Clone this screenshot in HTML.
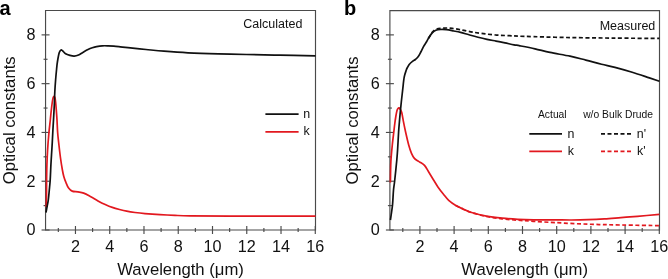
<!DOCTYPE html>
<html><head><meta charset="utf-8"><style>
html,body{margin:0;padding:0;background:#fff;}
body{width:668px;height:279px;overflow:hidden;}
svg{display:block;font-family:"Liberation Sans",sans-serif;will-change:transform;}
.tk{font-size:16.2px;fill:#111;}
.al{font-size:16.7px;fill:#111;}
.pl{font-size:20px;font-weight:bold;fill:#000;}
.an{font-size:12.5px;fill:#111;}
.lg{font-size:12.4px;fill:#111;}
.lh{font-size:10.3px;fill:#111;}
</style></head><body>
<svg width="668" height="279" viewBox="0 0 668 279">
<path d="M45.55,10.5 H315.5 V230.0 H45.55 Z" fill="none" stroke="#4a4a4a" stroke-width="1.15"/>
<path d="M41.55,230.00 H49.55" stroke="#4a4a4a" stroke-width="1.15"/>
<path d="M43.55,205.61 H47.55" stroke="#4a4a4a" stroke-width="1.15"/>
<path d="M41.55,181.22 H49.55" stroke="#4a4a4a" stroke-width="1.15"/>
<path d="M43.55,156.83 H47.55" stroke="#4a4a4a" stroke-width="1.15"/>
<path d="M41.55,132.44 H49.55" stroke="#4a4a4a" stroke-width="1.15"/>
<path d="M43.55,108.05 H47.55" stroke="#4a4a4a" stroke-width="1.15"/>
<path d="M41.55,83.66 H49.55" stroke="#4a4a4a" stroke-width="1.15"/>
<path d="M43.55,59.27 H47.55" stroke="#4a4a4a" stroke-width="1.15"/>
<path d="M41.55,34.88 H49.55" stroke="#4a4a4a" stroke-width="1.15"/>
<path d="M58.33,228.00 V232.00" stroke="#4a4a4a" stroke-width="1.15"/>
<path d="M75.46,226.00 V234.00" stroke="#4a4a4a" stroke-width="1.15"/>
<path d="M92.59,228.00 V232.00" stroke="#4a4a4a" stroke-width="1.15"/>
<path d="M109.72,226.00 V234.00" stroke="#4a4a4a" stroke-width="1.15"/>
<path d="M126.85,228.00 V232.00" stroke="#4a4a4a" stroke-width="1.15"/>
<path d="M143.98,226.00 V234.00" stroke="#4a4a4a" stroke-width="1.15"/>
<path d="M161.11,228.00 V232.00" stroke="#4a4a4a" stroke-width="1.15"/>
<path d="M178.24,226.00 V234.00" stroke="#4a4a4a" stroke-width="1.15"/>
<path d="M195.37,228.00 V232.00" stroke="#4a4a4a" stroke-width="1.15"/>
<path d="M212.50,226.00 V234.00" stroke="#4a4a4a" stroke-width="1.15"/>
<path d="M229.63,228.00 V232.00" stroke="#4a4a4a" stroke-width="1.15"/>
<path d="M246.76,226.00 V234.00" stroke="#4a4a4a" stroke-width="1.15"/>
<path d="M263.89,228.00 V232.00" stroke="#4a4a4a" stroke-width="1.15"/>
<path d="M281.02,226.00 V234.00" stroke="#4a4a4a" stroke-width="1.15"/>
<path d="M298.15,228.00 V232.00" stroke="#4a4a4a" stroke-width="1.15"/>
<path d="M315.28,226.00 V234.00" stroke="#4a4a4a" stroke-width="1.15"/>
<path d="M389.9,10.6 H659.5 V230.0 H389.9 Z" fill="none" stroke="#4a4a4a" stroke-width="1.15"/>
<path d="M385.90,230.00 H393.90" stroke="#4a4a4a" stroke-width="1.15"/>
<path d="M387.90,205.61 H391.90" stroke="#4a4a4a" stroke-width="1.15"/>
<path d="M385.90,181.22 H393.90" stroke="#4a4a4a" stroke-width="1.15"/>
<path d="M387.90,156.83 H391.90" stroke="#4a4a4a" stroke-width="1.15"/>
<path d="M385.90,132.44 H393.90" stroke="#4a4a4a" stroke-width="1.15"/>
<path d="M387.90,108.05 H391.90" stroke="#4a4a4a" stroke-width="1.15"/>
<path d="M385.90,83.66 H393.90" stroke="#4a4a4a" stroke-width="1.15"/>
<path d="M387.90,59.27 H391.90" stroke="#4a4a4a" stroke-width="1.15"/>
<path d="M385.90,34.88 H393.90" stroke="#4a4a4a" stroke-width="1.15"/>
<path d="M402.80,228.00 V232.00" stroke="#4a4a4a" stroke-width="1.15"/>
<path d="M419.90,226.00 V234.00" stroke="#4a4a4a" stroke-width="1.15"/>
<path d="M437.00,228.00 V232.00" stroke="#4a4a4a" stroke-width="1.15"/>
<path d="M454.10,226.00 V234.00" stroke="#4a4a4a" stroke-width="1.15"/>
<path d="M471.20,228.00 V232.00" stroke="#4a4a4a" stroke-width="1.15"/>
<path d="M488.30,226.00 V234.00" stroke="#4a4a4a" stroke-width="1.15"/>
<path d="M505.40,228.00 V232.00" stroke="#4a4a4a" stroke-width="1.15"/>
<path d="M522.50,226.00 V234.00" stroke="#4a4a4a" stroke-width="1.15"/>
<path d="M539.60,228.00 V232.00" stroke="#4a4a4a" stroke-width="1.15"/>
<path d="M556.70,226.00 V234.00" stroke="#4a4a4a" stroke-width="1.15"/>
<path d="M573.80,228.00 V232.00" stroke="#4a4a4a" stroke-width="1.15"/>
<path d="M590.90,226.00 V234.00" stroke="#4a4a4a" stroke-width="1.15"/>
<path d="M608.00,228.00 V232.00" stroke="#4a4a4a" stroke-width="1.15"/>
<path d="M625.10,226.00 V234.00" stroke="#4a4a4a" stroke-width="1.15"/>
<path d="M642.20,228.00 V232.00" stroke="#4a4a4a" stroke-width="1.15"/>
<path d="M659.30,226.00 V234.00" stroke="#4a4a4a" stroke-width="1.15"/>
<text x="35.45" y="235" text-anchor="end" class="tk">0</text>
<text x="35.45" y="187" text-anchor="end" class="tk">2</text>
<text x="35.45" y="138" text-anchor="end" class="tk">4</text>
<text x="35.45" y="89" text-anchor="end" class="tk">6</text>
<text x="35.45" y="40" text-anchor="end" class="tk">8</text>
<text x="75.46" y="251.6" text-anchor="middle" class="tk">2</text>
<text x="109.72" y="251.6" text-anchor="middle" class="tk">4</text>
<text x="143.98" y="251.6" text-anchor="middle" class="tk">6</text>
<text x="178.24" y="251.6" text-anchor="middle" class="tk">8</text>
<text x="212.50" y="251.6" text-anchor="middle" class="tk">10</text>
<text x="246.76" y="251.6" text-anchor="middle" class="tk">12</text>
<text x="281.02" y="251.6" text-anchor="middle" class="tk">14</text>
<text x="315.28" y="251.6" text-anchor="middle" class="tk">16</text>
<text x="180.53" y="275.3" text-anchor="middle" class="al">Wavelength (μm)</text>
<text transform="translate(14.55,120.35) rotate(-90)" text-anchor="middle" class="al">Optical constants</text>
<text x="-0.5" y="14.6" class="pl">a</text>
<text x="379.80" y="235" text-anchor="end" class="tk">0</text>
<text x="379.80" y="187" text-anchor="end" class="tk">2</text>
<text x="379.80" y="138" text-anchor="end" class="tk">4</text>
<text x="379.80" y="89" text-anchor="end" class="tk">6</text>
<text x="379.80" y="40" text-anchor="end" class="tk">8</text>
<text x="419.90" y="251.6" text-anchor="middle" class="tk">2</text>
<text x="454.10" y="251.6" text-anchor="middle" class="tk">4</text>
<text x="488.30" y="251.6" text-anchor="middle" class="tk">6</text>
<text x="522.50" y="251.6" text-anchor="middle" class="tk">8</text>
<text x="556.70" y="251.6" text-anchor="middle" class="tk">10</text>
<text x="590.90" y="251.6" text-anchor="middle" class="tk">12</text>
<text x="625.10" y="251.6" text-anchor="middle" class="tk">14</text>
<text x="659.30" y="251.6" text-anchor="middle" class="tk">16</text>
<text x="524.70" y="275.3" text-anchor="middle" class="al">Wavelength (μm)</text>
<text transform="translate(358.30,120.40) rotate(-90)" text-anchor="middle" class="al">Optical constants</text>
<text x="344.0" y="14.6" class="pl">b</text>
<path d="M46.20,207.00 C46.25,205.00 46.43,199.50 46.50,195.00 C46.57,190.50 46.53,185.00 46.60,180.00 C46.67,175.00 46.73,170.00 46.90,165.00 C47.07,160.00 47.27,155.33 47.60,150.00 C47.93,144.67 48.45,138.00 48.90,133.00 C49.35,128.00 49.92,123.67 50.30,120.00 C50.68,116.33 50.87,114.00 51.20,111.00 C51.53,108.00 51.97,104.25 52.30,102.00 C52.63,99.75 52.92,98.43 53.20,97.50 C53.48,96.57 53.72,96.38 54.00,96.40 C54.28,96.42 54.63,96.67 54.90,97.60 C55.17,98.53 55.37,99.93 55.60,102.00 C55.83,104.07 56.07,107.00 56.30,110.00 C56.53,113.00 56.78,116.33 57.00,120.00 C57.22,123.67 57.33,128.33 57.60,132.00 C57.87,135.67 58.12,137.67 58.60,142.00 C59.08,146.33 59.87,153.33 60.50,158.00 C61.13,162.67 61.85,166.92 62.40,170.00 C62.95,173.08 63.23,174.47 63.80,176.50 C64.37,178.53 65.00,180.27 65.80,182.20 C66.60,184.13 67.53,186.62 68.60,188.10 C69.67,189.58 70.65,190.47 72.20,191.10 C73.75,191.73 75.98,191.57 77.90,191.90 C79.82,192.23 81.55,192.30 83.70,193.10 C85.85,193.90 88.42,195.40 90.80,196.70 C93.18,198.00 95.60,199.60 98.00,200.90 C100.40,202.20 102.82,203.42 105.20,204.50 C107.58,205.58 109.92,206.57 112.30,207.40 C114.68,208.23 117.10,208.87 119.50,209.50 C121.90,210.13 124.12,210.70 126.70,211.20 C129.28,211.70 131.95,212.10 135.00,212.50 C138.05,212.90 140.83,213.23 145.00,213.60 C149.17,213.97 155.00,214.40 160.00,214.70 C165.00,215.00 170.00,215.22 175.00,215.40 C180.00,215.58 180.83,215.68 190.00,215.80 C199.17,215.92 209.08,216.03 230.00,216.10 C250.92,216.17 301.25,216.18 315.50,216.20" fill="none" stroke="#e2181f" stroke-width="1.7" stroke-linejoin="round"/>
<path d="M46.00,212.50 C46.20,211.42 46.82,208.08 47.20,206.00 C47.58,203.92 47.95,202.67 48.30,200.00 C48.65,197.33 48.98,193.33 49.30,190.00 C49.62,186.67 49.93,184.17 50.20,180.00 C50.47,175.83 50.68,169.17 50.90,165.00 C51.12,160.83 51.27,158.83 51.50,155.00 C51.73,151.17 52.07,146.17 52.30,142.00 C52.53,137.83 52.70,133.67 52.90,130.00 C53.10,126.33 53.27,124.17 53.50,120.00 C53.73,115.83 54.08,109.67 54.30,105.00 C54.52,100.33 54.58,96.17 54.80,92.00 C55.02,87.83 55.30,83.83 55.60,80.00 C55.90,76.17 56.30,72.00 56.60,69.00 C56.90,66.00 56.97,64.70 57.40,62.00 C57.83,59.30 58.60,54.82 59.20,52.80 C59.80,50.78 60.40,50.20 61.00,49.90 C61.60,49.60 62.03,50.35 62.80,51.00 C63.57,51.65 64.42,53.07 65.60,53.80 C66.78,54.53 68.47,55.02 69.90,55.40 C71.33,55.78 72.77,56.17 74.20,56.10 C75.63,56.03 77.07,55.60 78.50,55.00 C79.93,54.40 81.22,53.40 82.80,52.50 C84.38,51.60 86.42,50.38 88.00,49.60 C89.58,48.82 90.87,48.30 92.30,47.80 C93.73,47.30 94.93,46.93 96.60,46.60 C98.27,46.27 100.38,45.93 102.30,45.80 C104.22,45.67 106.18,45.75 108.10,45.80 C110.02,45.85 111.77,45.93 113.80,46.10 C115.83,46.27 117.93,46.53 120.30,46.80 C122.67,47.07 123.72,47.25 128.00,47.70 C132.28,48.15 140.00,48.92 146.00,49.50 C152.00,50.08 157.00,50.65 164.00,51.20 C171.00,51.75 178.93,52.35 188.00,52.80 C197.07,53.25 208.67,53.62 218.40,53.90 C228.13,54.18 236.13,54.28 246.40,54.50 C256.67,54.72 268.48,54.98 280.00,55.20 C291.52,55.42 309.58,55.70 315.50,55.80" fill="none" stroke="#111" stroke-width="1.7" stroke-linejoin="round"/>
<path d="M455.80,205.40 C456.98,205.98 460.42,207.75 462.90,208.90 C465.38,210.05 466.78,211.03 470.70,212.30 C474.62,213.57 481.18,215.42 486.40,216.50 C491.62,217.58 496.73,218.18 502.00,218.80 C507.27,219.42 512.73,219.78 518.00,220.20 C523.27,220.62 527.43,220.90 533.60,221.30 C539.77,221.70 545.93,222.12 555.00,222.60 C564.07,223.08 577.02,223.80 588.00,224.20 C598.98,224.60 609.00,224.77 620.90,225.00 C632.80,225.23 652.98,225.50 659.40,225.60" fill="none" stroke="#e2181f" stroke-width="1.7" stroke-linejoin="round" stroke-dasharray="4 2.5"/>
<path d="M390.40,182.50 C390.42,181.42 390.45,178.75 390.50,176.00 C390.55,173.25 390.60,169.00 390.70,166.00 C390.80,163.00 390.83,161.50 391.10,158.00 C391.37,154.50 391.85,149.33 392.30,145.00 C392.75,140.67 393.38,135.58 393.80,132.00 C394.22,128.42 394.45,126.17 394.80,123.50 C395.15,120.83 395.53,118.15 395.90,116.00 C396.27,113.85 396.65,111.87 397.00,110.60 C397.35,109.33 397.65,108.85 398.00,108.40 C398.35,107.95 398.70,107.72 399.10,107.90 C399.50,108.08 399.95,108.68 400.40,109.50 C400.85,110.32 401.30,110.82 401.80,112.80 C402.30,114.78 402.77,118.20 403.40,121.40 C404.03,124.60 404.72,128.07 405.60,132.00 C406.48,135.93 407.72,141.43 408.70,145.00 C409.68,148.57 410.55,151.17 411.50,153.40 C412.45,155.63 413.40,157.18 414.40,158.40 C415.40,159.62 416.57,160.07 417.50,160.70 C418.43,161.33 418.83,161.42 420.00,162.20 C421.17,162.98 423.00,163.68 424.50,165.40 C426.00,167.12 427.52,170.12 429.00,172.50 C430.48,174.88 431.92,177.30 433.40,179.70 C434.88,182.10 436.25,184.52 437.90,186.90 C439.55,189.28 441.50,191.77 443.30,194.00 C445.10,196.23 446.62,198.40 448.70,200.30 C450.78,202.20 453.43,203.97 455.80,205.40 C458.17,206.83 460.42,207.77 462.90,208.90 C465.38,210.03 466.78,211.00 470.70,212.20 C474.62,213.40 481.15,215.10 486.40,216.10 C491.65,217.10 496.95,217.67 502.20,218.20 C507.45,218.73 512.67,219.03 517.90,219.30 C523.13,219.57 527.42,219.70 533.60,219.80 C539.78,219.90 548.68,219.87 555.00,219.90 C561.32,219.93 566.00,220.03 571.50,220.00 C577.00,219.97 582.52,219.88 588.00,219.70 C593.48,219.52 598.92,219.25 604.40,218.90 C609.88,218.55 615.40,218.03 620.90,217.60 C626.40,217.17 630.98,216.83 637.40,216.30 C643.82,215.77 655.73,214.72 659.40,214.40" fill="none" stroke="#e2181f" stroke-width="1.7" stroke-linejoin="round"/>
<path d="M428.30,38.60 C428.95,37.57 430.95,33.93 432.20,32.40 C433.45,30.87 434.25,30.08 435.80,29.40 C437.35,28.72 439.60,28.53 441.50,28.30 C443.40,28.07 445.28,27.97 447.20,28.00 C449.12,28.03 451.08,28.28 453.00,28.50 C454.92,28.72 456.87,28.98 458.70,29.30 C460.53,29.62 461.68,29.93 464.00,30.40 C466.32,30.87 469.37,31.55 472.60,32.10 C475.83,32.65 479.52,33.22 483.40,33.70 C487.28,34.18 491.57,34.67 495.90,35.00 C500.23,35.33 504.55,35.47 509.40,35.70 C514.25,35.93 515.47,36.10 525.00,36.40 C534.53,36.70 551.90,37.22 566.60,37.50 C581.30,37.78 597.73,37.95 613.20,38.10 C628.67,38.25 651.70,38.35 659.40,38.40" fill="none" stroke="#111" stroke-width="1.7" stroke-linejoin="round" stroke-dasharray="4 2.5"/>
<path d="M390.40,220.00 C390.60,218.67 391.23,214.67 391.60,212.00 C391.97,209.33 392.28,207.67 392.60,204.00 C392.92,200.33 393.17,193.75 393.50,190.00 C393.83,186.25 394.05,186.50 394.60,181.50 C395.15,176.50 396.28,165.58 396.80,160.00 C397.32,154.42 397.40,152.67 397.70,148.00 C398.00,143.33 398.32,136.33 398.60,132.00 C398.88,127.67 399.13,125.20 399.40,122.00 C399.67,118.80 399.88,116.13 400.20,112.80 C400.52,109.47 400.97,105.13 401.30,102.00 C401.63,98.87 401.95,96.22 402.20,94.00 C402.45,91.78 402.47,91.50 402.80,88.70 C403.13,85.90 403.62,80.32 404.20,77.20 C404.78,74.08 405.73,71.67 406.30,70.00 C406.87,68.33 407.08,68.17 407.60,67.20 C408.12,66.23 408.53,65.22 409.40,64.20 C410.27,63.18 411.80,61.88 412.80,61.10 C413.80,60.32 414.52,60.22 415.40,59.50 C416.28,58.78 417.20,58.05 418.10,56.80 C419.00,55.55 419.90,53.70 420.80,52.00 C421.70,50.30 422.60,48.22 423.50,46.60 C424.40,44.98 425.40,43.63 426.20,42.30 C427.00,40.97 427.30,40.17 428.30,38.60 C429.30,37.03 430.95,34.28 432.20,32.90 C433.45,31.52 434.37,30.87 435.80,30.30 C437.23,29.73 439.02,29.60 440.80,29.50 C442.58,29.40 444.35,29.45 446.50,29.70 C448.65,29.95 451.37,30.55 453.70,31.00 C456.03,31.45 457.95,31.77 460.50,32.40 C463.05,33.03 466.08,34.00 469.00,34.80 C471.92,35.60 475.00,36.45 478.00,37.20 C481.00,37.95 484.00,38.65 487.00,39.30 C490.00,39.95 493.00,40.50 496.00,41.10 C499.00,41.70 502.00,42.28 505.00,42.90 C508.00,43.52 511.50,44.32 514.00,44.80 C516.50,45.28 516.50,45.13 520.00,45.80 C523.50,46.47 530.00,47.70 535.00,48.80 C540.00,49.90 544.17,51.17 550.00,52.40 C555.83,53.63 564.03,54.92 570.00,56.20 C575.97,57.48 580.55,58.77 585.80,60.10 C591.05,61.43 596.63,62.98 601.50,64.20 C606.37,65.42 609.88,66.05 615.00,67.40 C620.12,68.75 626.47,70.55 632.20,72.30 C637.93,74.05 644.87,76.42 649.40,77.90 C653.93,79.38 657.73,80.65 659.40,81.20" fill="none" stroke="#111" stroke-width="1.7" stroke-linejoin="round"/>
<text x="302.4" y="27.8" text-anchor="end" class="an">Calculated</text>
<text x="655.3" y="29.6" text-anchor="end" class="an">Measured</text>
<path d="M265.4,114.2 H298.6" stroke="#111" stroke-width="1.7"/>
<path d="M265.4,131.8 H298.6" stroke="#e2181f" stroke-width="1.7"/>
<text x="303.2" y="118.0" class="lg">n</text>
<text x="303.4" y="135.4" class="lg">k</text>
<text x="538.0" y="118.3" class="lh">Actual</text>
<text x="583.2" y="118.3" class="lh">w/o Bulk Drude</text>
<path d="M529.3,133.8 H562" stroke="#111" stroke-width="1.7"/>
<path d="M529.3,151.3 H562" stroke="#e2181f" stroke-width="1.7"/>
<path d="M601,133.8 H631.6" stroke="#111" stroke-width="1.7" stroke-dasharray="4 2.5"/>
<path d="M601,151.3 H631.6" stroke="#e2181f" stroke-width="1.7" stroke-dasharray="4 2.5"/>
<text x="567.5" y="137.5" class="lg">n</text>
<text x="567.7" y="155.0" class="lg">k</text>
<text x="636.8" y="137.5" class="lg">n'</text>
<text x="637.0" y="155.0" class="lg">k'</text>
</svg>
</body></html>
